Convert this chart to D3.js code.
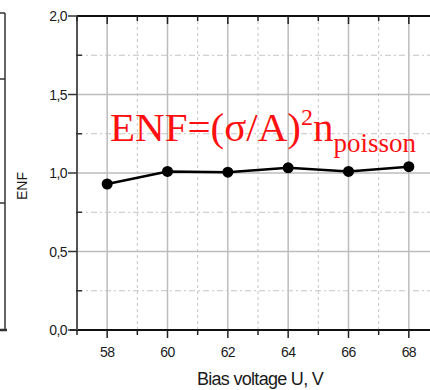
<!DOCTYPE html>
<html>
<head>
<meta charset="utf-8">
<script src="https://cdn.jsdelivr.net/npm/d3@7"></script>
<style>
  body { margin: 0; background: #fff; }
  svg { display: block; }
  .tick-label { font-family: "Liberation Sans", Arial, sans-serif; font-size: 14px; letter-spacing: -0.6px; fill: #1a1a1a; }
</style>
</head>
<body>
<svg width="430" height="390"></svg>
<script>
// bias voltage (V) and excess noise factor
var voltage = [58, 60, 62, 64, 66, 68];
var enf = [0.93, 1.01, 1.005, 1.033, 1.01, 1.04];

var xMajor = [58, 60, 62, 64, 66, 68];
var xMinor = [57, 59, 61, 63, 65, 67, 69];
var yMajor = [0, 0.5, 1.0, 1.5, 2.0];
var yMinor = [0.25, 0.75, 1.25, 1.75];

var svg = d3.select('svg');

var x = d3.scaleLinear().domain([57, 69]).range([77, 439]);
var y = d3.scaleLinear().domain([0, 2]).range([330, 16]);

var grid = svg.append('g');

// vertical grid
grid.selectAll('.vmaj')
  .data(xMajor)
  .enter().append('line')
  .attr('x1', function (d) { return x(d); })
  .attr('x2', function (d) { return x(d); })
  .attr('y1', y(0)).attr('y2', y(2))
  .attr('stroke', '#bdbdbd').attr('stroke-width', 1.5);

grid.selectAll('.vmin')
  .data(xMinor)
  .enter().append('line')
  .attr('x1', function (d) { return x(d); })
  .attr('x2', function (d) { return x(d); })
  .attr('y1', y(0)).attr('y2', y(2))
  .attr('stroke', '#c4c4c4').attr('stroke-width', 1)
  .attr('stroke-dasharray', '3,3');

// horizontal grid
grid.selectAll('.hmaj')
  .data(yMajor.slice(1, 4))
  .enter().append('line')
  .attr('x1', x(57)).attr('x2', 430)
  .attr('y1', function (d) { return y(d); })
  .attr('y2', function (d) { return y(d); })
  .attr('stroke', '#bdbdbd').attr('stroke-width', 1.5);

grid.selectAll('.hmin')
  .data(yMinor)
  .enter().append('line')
  .attr('x1', x(57)).attr('x2', 430)
  .attr('y1', function (d) { return y(d); })
  .attr('y2', function (d) { return y(d); })
  .attr('stroke', '#c4c4c4').attr('stroke-width', 1)
  .attr('stroke-dasharray', '6,3,2,3');

// formula
var formula = svg.append('text')
  .attr('x', 110).attr('y', 141)
  .attr('fill', '#ff1010')
  .style('font-family', '"Liberation Serif", "Times New Roman", serif')
  .style('font-size', '41px');
formula.append('tspan').text('ENF=(σ/A)');
formula.append('tspan').attr('dy', -16).style('font-size', '24px').text('2');
formula.append('tspan').attr('dy', 16).text('n');
formula.append('tspan').attr('dy', 11).style('font-size', '27px').text('poisson');

// axes frame
svg.append('line')
  .attr('x1', x(57)).attr('x2', 430)
  .attr('y1', y(2)).attr('y2', y(2))
  .attr('stroke', '#111').attr('stroke-width', 2);

svg.append('line')
  .attr('x1', 70).attr('x2', 430)
  .attr('y1', y(0)).attr('y2', y(0))
  .attr('stroke', '#111').attr('stroke-width', 2);

svg.append('line')
  .attr('x1', x(57)).attr('x2', x(57))
  .attr('y1', y(2)).attr('y2', y(0))
  .attr('stroke', '#555').attr('stroke-width', 2);

// x ticks: bottom outward, top inward
var xt = svg.append('g').attr('stroke', '#222').attr('stroke-width', 1.5);
xMajor.forEach(function (d) {
  xt.append('line').attr('x1', x(d)).attr('x2', x(d)).attr('y1', y(0)).attr('y2', y(0) + 8);
  xt.append('line').attr('x1', x(d)).attr('x2', x(d)).attr('y1', y(2)).attr('y2', y(2) + 8);
});
xMinor.forEach(function (d) {
  xt.append('line').attr('x1', x(d)).attr('x2', x(d)).attr('y1', y(0)).attr('y2', y(0) + 5);
  xt.append('line').attr('x1', x(d)).attr('x2', x(d)).attr('y1', y(2)).attr('y2', y(2) + 5);
});

// y ticks
var yt = svg.append('g').attr('stroke', '#333').attr('stroke-width', 1.5);
yMajor.forEach(function (d) {
  yt.append('line').attr('x1', x(57) - 9).attr('x2', x(57)).attr('y1', y(d)).attr('y2', y(d));
});
yMinor.forEach(function (d) {
  yt.append('line').attr('x1', x(57) - 1).attr('x2', x(57) + 5).attr('y1', y(d)).attr('y2', y(d));
});

// tick labels
var fmt = d3.format('.1f');
svg.selectAll('.ylab')
  .data(yMajor)
  .enter().append('text')
  .attr('class', 'tick-label')
  .attr('x', 67)
  .attr('y', function (d) { return y(d) + 5; })
  .attr('text-anchor', 'end')
  .text(function (d) { return fmt(d).replace('.', ','); });

svg.selectAll('.xlab')
  .data(xMajor)
  .enter().append('text')
  .attr('class', 'tick-label')
  .attr('x', function (d) { return x(d); })
  .attr('y', 357)
  .attr('text-anchor', 'middle')
  .text(function (d) { return d; });

// axis titles
svg.append('text')
  .attr('transform', 'translate(27,186) rotate(-90)')
  .attr('text-anchor', 'middle')
  .style('font-family', '"Liberation Sans", Arial, sans-serif')
  .style('font-size', '14px')
  .attr('fill', '#1a1a1a')
  .text('ENF');

svg.append('text')
  .attr('x', 260).attr('y', 385)
  .attr('text-anchor', 'middle')
  .style('font-family', '"Liberation Sans", Arial, sans-serif')
  .style('font-size', '18px')
  .style('letter-spacing', '-0.7px')
  .attr('fill', '#1a1a1a')
  .text('Bias voltage U, V');

// data line + markers
var line = d3.line()
  .x(function (d, i) { return x(voltage[i]); })
  .y(function (d) { return y(d); });

svg.append('path')
  .datum(enf)
  .attr('d', line)
  .attr('fill', 'none')
  .attr('stroke', '#000')
  .attr('stroke-width', 2.5);

svg.selectAll('.pt')
  .data(enf)
  .enter().append('circle')
  .attr('cx', function (d, i) { return x(voltage[i]); })
  .attr('cy', function (d) { return y(d); })
  .attr('r', 5.5)
  .attr('fill', '#000');

// edge of the neighbouring panel on the left
var edge = svg.append('g').attr('stroke', '#333').attr('stroke-width', 1.5);
edge.append('line').attr('x1', 5).attr('x2', 5).attr('y1', 13).attr('y2', 330);
edge.append('line').attr('x1', 0).attr('x2', 5).attr('y1', 13).attr('y2', 13);
edge.append('line').attr('x1', 0).attr('x2', 5).attr('y1', 79).attr('y2', 79);
edge.append('line').attr('x1', 0).attr('x2', 5).attr('y1', 203).attr('y2', 203);
edge.append('line').attr('x1', 0).attr('x2', 7).attr('y1', 330).attr('y2', 330).attr('stroke-width', 2.5);
</script>
</body>
</html>
